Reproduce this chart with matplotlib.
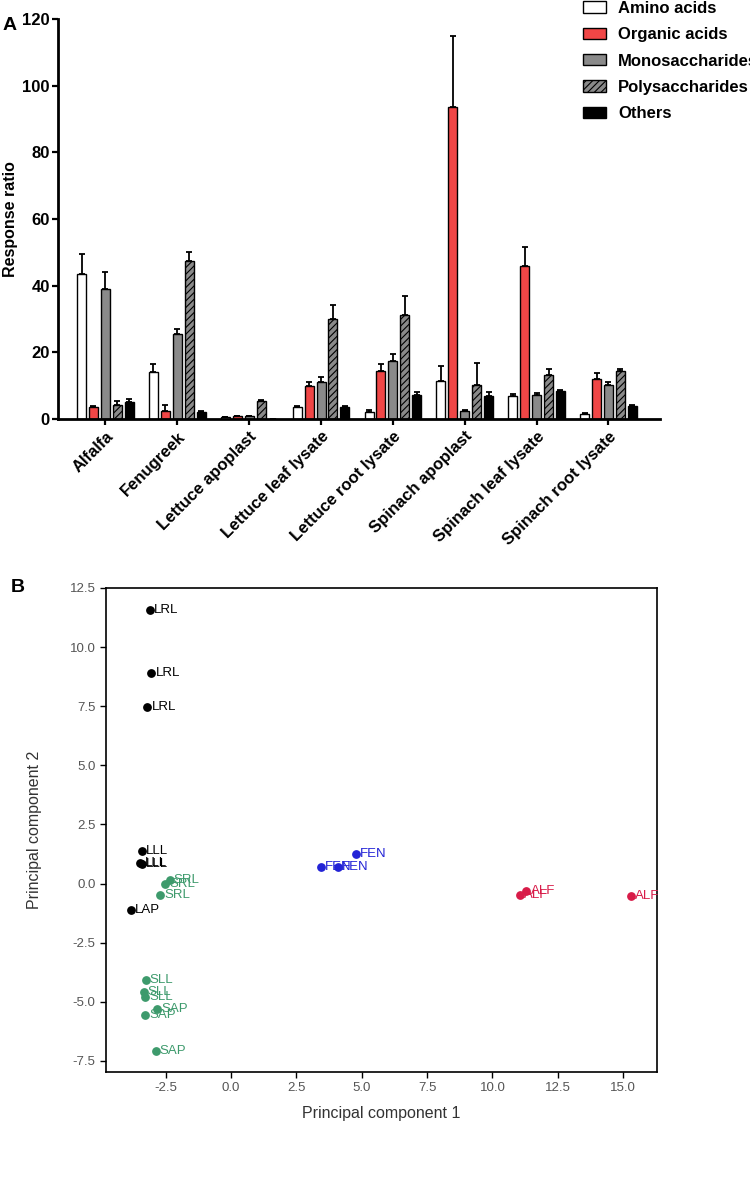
import numpy as np
import matplotlib
matplotlib.use("Agg")
from matplotlib import pyplot as plt

plt.rcParams['font.family'] = ['Liberation Sans', 'DejaVu Sans']
plt.rcParams['hatch.linewidth'] = 0.8

# ---- panel A data ----
samples = ["Alfalfa", "Fenugreek", "Lettuce apoplast", "Lettuce leaf lysate",
           "Lettuce root lysate", "Spinach apoplast", "Spinach leaf lysate",
           "Spinach root lysate"]
classes = ["Amino acids", "Organic acids", "Monosaccharides", "Polysaccharides", "Others"]
amino = [43.5, 14.0, 0.5, 3.5, 2.0, 11.5, 7.0, 1.5]
amino_err = [6.0, 2.5, 0.1, 0.5, 0.6, 4.5, 0.5, 0.3]
organic = [3.5, 2.5, 0.9, 10.0, 14.5, 93.5, 46.0, 12.0]
organic_err = [0.5, 1.6, 0.1, 1.0, 2.0, 21.5, 5.5, 1.8]
mono = [39.0, 25.5, 0.8, 11.2, 17.3, 2.3, 7.2, 10.3]
mono_err = [5.0, 1.6, 0.1, 1.3, 2.2, 0.5, 0.6, 0.7]
poly = [4.2, 47.3, 5.5, 30.0, 31.3, 10.3, 13.3, 14.5]
poly_err = [1.3, 2.7, 0.1, 4.3, 5.7, 6.4, 1.7, 0.5]
others = [5.2, 2.0, 0.05, 3.6, 7.2, 6.9, 8.3, 4.0]
others_err = [0.8, 0.3, 0.0, 0.4, 1.0, 1.1, 0.5, 0.3]

# ---- panel B data (PCA scores) ----
pc_labels = ["LRL", "LRL", "LRL", "LLL", "LLL", "LLL", "LAP",
             "SRL", "SRL", "SRL", "SLL", "SLL", "SLL", "SAP", "SAP", "SAP",
             "FEN", "FEN", "FEN", "ALF", "ALF", "ALF"]
pc1 = [-3.11, -3.05, -3.21, -3.43, -3.47, -3.42, -3.84,
       -2.35, -2.53, -2.72, -3.27, -3.35, -3.30, -2.83, -3.30, -2.89,
       4.78, 3.44, 4.08, 11.30, 11.05, 15.29]
pc2 = [11.57, 8.89, 7.47, 1.37, 0.88, 0.82, -1.14,
       0.13, -0.01, -0.47, -4.08, -4.58, -4.78, -5.31, -5.55, -7.08,
       1.26, 0.69, 0.69, -0.33, -0.50, -0.51]
group_colors = {"LRL": "black", "LLL": "black", "LAP": "black",
                "SRL": "#3d9a6c", "SLL": "#3d9a6c", "SAP": "#3d9a6c",
                "FEN": "#2323d6", "ALF": "#d81b48"}

fig = plt.figure(figsize=(7.5, 11.96), dpi=100)

# ================= panel A =================
ax = fig.add_axes([0.0773, 0.6497, 0.803, 0.3345])
x = np.arange(len(samples))
width = 0.125
step = 0.166
series = [(amino, amino_err, "white", ""),
          (organic, organic_err, "#f04646", ""),
          (mono, mono_err, "#8a8a8a", ""),
          (poly, poly_err, "#8a8a8a", "/////"),
          (others, others_err, "black", "")]
for i, (vals, err, col, hat) in enumerate(series):
    pos = x + (i - 2) * step
    ax.bar(pos, vals, width, color=col, edgecolor="black", linewidth=1.0,
           hatch=hat, label=classes[i], zorder=2)
    ax.errorbar(pos, vals, yerr=[np.zeros(len(vals)), err], fmt="none",
                ecolor="black", elinewidth=1.3, capsize=2.5, capthick=1.3, zorder=3)

ax.set_xlim(-0.66, 7.72)
ax.set_ylim(0, 120)
ax.set_yticks(np.arange(0, 121, 20))
ax.set_xticks(x)
ax.set_xticklabels(samples, rotation=45, ha="right", rotation_mode="anchor",
                   fontsize=12, fontweight="bold")
for t in ax.get_yticklabels():
    t.set_fontweight("bold")
    t.set_fontsize(12)
ax.tick_params(axis="both", width=1.6, length=4, direction="out")
ax.tick_params(axis="x", pad=3)
ax.tick_params(axis="y", pad=2)
ax.set_ylabel("Response ratio", fontsize=11.5, fontweight="bold", labelpad=3)
for s in ["top", "right"]:
    ax.spines[s].set_visible(False)
for s in ["left", "bottom"]:
    ax.spines[s].set_linewidth(2)

leg = ax.legend(loc="upper left", bbox_to_anchor=(0.872, 1.045), frameon=False,
                prop={"weight": "bold", "size": 12}, handlelength=1.4,
                handleheight=0.65, labelspacing=0.68, handletextpad=0.7,
                borderpad=0, borderaxespad=0)

fig.text(0.003, 0.975, "A", fontsize=14, fontweight="bold")

# ================= panel B =================
bx = fig.add_axes([0.1413, 0.1037, 0.7347, 0.4047])
for px, py, lab in zip(pc1, pc2, pc_labels):
    c = group_colors[lab]
    bx.scatter(px, py, s=28, color=c, zorder=3)
    bx.annotate(lab, (px, py), xytext=(3, 0), textcoords="offset points",
                va="center", ha="left", fontsize=9.5, color=c)

bx.set_xlim(-4.79, 16.3)
bx.set_ylim(-7.97, 12.5)
bx.set_xticks(np.arange(-2.5, 15.1, 2.5))
bx.set_yticks(np.arange(-7.5, 12.6, 2.5))
bx.xaxis.set_major_formatter(matplotlib.ticker.FormatStrFormatter("%.1f"))
bx.yaxis.set_major_formatter(matplotlib.ticker.FormatStrFormatter("%.1f"))
bx.tick_params(labelsize=9.5, labelcolor="#555555", width=1, length=4)
for s in bx.spines.values():
    s.set_linewidth(1.2)
bx.set_xlabel("Principal component 1", fontsize=11.5, color="#333333", labelpad=8)
bx.set_ylabel("Principal component 2", fontsize=11.5, color="#333333", labelpad=20)

fig.text(0.015, 0.505, "B", fontsize=14, fontweight="bold")

fig.savefig("out.png", dpi=100)
